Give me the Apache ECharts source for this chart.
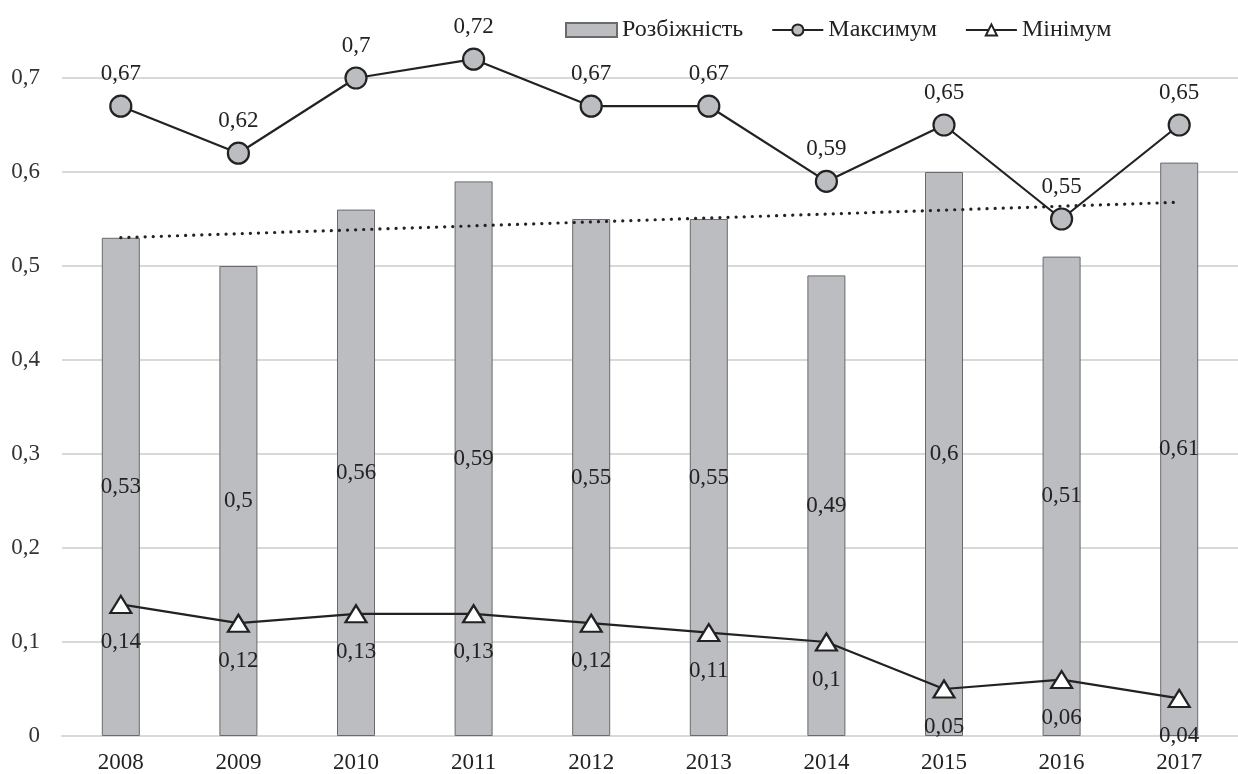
<!DOCTYPE html>
<html>
<head>
<meta charset="utf-8">
<script src="https://cdn.jsdelivr.net/npm/echarts@6/dist/echarts.min.js"></script>
<style>
html,body{margin:0;padding:0;background:#fff;}
#chart{width:1238px;height:774px;}
</style>
</head>
<body>
<div id="chart"></div>
<script>
var years = ['2008','2009','2010','2011','2012','2013','2014','2015','2016','2017'];
var divergence = [0.53,0.50,0.56,0.59,0.55,0.55,0.49,0.60,0.51,0.61];
var maximum = [0.67,0.62,0.70,0.72,0.67,0.67,0.59,0.65,0.55,0.65];
var minimum = [0.14,0.12,0.13,0.13,0.12,0.11,0.10,0.05,0.06,0.04];
var yTicks = [0,0.1,0.2,0.3,0.4,0.5,0.6,0.7];

// linear trend of the divergence bars (as the original's trendline)
function linearTrend(arr){
  var n = arr.length, sx=0, sy=0, sxy=0, sxx=0;
  for (var i=0;i<n;i++){ sx+=i; sy+=arr[i]; sxy+=i*arr[i]; sxx+=i*i; }
  var b = (n*sxy - sx*sy)/(n*sxx - sx*sx);
  var a = (sy - b*sx)/n;
  return arr.map(function(_,i){ return a + b*i; });
}
var trend = linearTrend(divergence);

function fmt(v){ return String(+v.toFixed(2)).replace('.', ','); }

var FONT = 'Liberation Serif';
var FS = 23;
var chart = echarts.init(document.getElementById('chart'), null, {renderer:'canvas'});
chart.setOption({
  animation:false,
  backgroundColor:'#fff',
  textStyle:{fontFamily:FONT},
  legend:{
    data:[{name:'Розбіжність', icon:'rect'},{name:'Максимум'},{name:'Мінімум'}],
    left:560, top:13,
    itemWidth:51, itemHeight:14, itemGap:28,
    textStyle:{fontFamily:FONT, fontSize:24, color:'#222', padding:[0,0,0,0]}
  },
  grid:{left:62, top:78, width:1187, bottom:37, containLabel:false},
  xAxis:{
    type:'category', data:years,
    axisLine:{show:true, lineStyle:{color:'#d9d9d9', width:2}},
    axisTick:{show:false},
    axisLabel:{fontFamily:FONT, fontSize:FS, color:'#222', margin:15}
  },
  yAxis:{
    type:'value', min:0, max:0.7, interval:0.1,
    axisLine:{show:false}, axisTick:{show:false},
    splitLine:{lineStyle:{color:'#d9d9d9', width:2}},
    axisLabel:{fontFamily:FONT, fontSize:FS, color:'#333', margin:22,
      formatter:function(v){ return fmt(v); }}
  },
  series:[
    {
      name:'Розбіжність', type:'bar', data:divergence, barWidth:38,
      itemStyle:{color:'#bcbdc1', borderColor:'#6a6a6a', borderWidth:1},
      label:{show:true, position:'inside', fontFamily:FONT, fontSize:FS, color:'#222',
        formatter:function(p){ return fmt(p.value); }},
      z:2
    },
    {
      name:'trend', type:'line', data:trend, symbol:'none', silent:true,
      lineStyle:{color:'#222', width:3.2, type:[0.1,8], cap:'round'},
      z:3
    },
    {
      name:'Максимум', type:'line', data:maximum, clip:false,
      symbol:'circle', symbolSize:21,
      itemStyle:{color:'#bcbdc1', borderColor:'#222', borderWidth:2.2},
      lineStyle:{color:'#222', width:2.2},
      label:{show:true, position:'top', distance:9, fontFamily:FONT, fontSize:FS, color:'#222',
        formatter:function(p){ return fmt(p.value); }},
      z:5
    },
    {
      name:'Мінімум', type:'line', data:minimum, clip:false,
      symbol:'triangle', symbolSize:[21,17],
      itemStyle:{color:'#fff', borderColor:'#222', borderWidth:2.2},
      lineStyle:{color:'#222', width:2.2},
      label:{show:true, position:'bottom', distance:17, fontFamily:FONT, fontSize:FS, color:'#222',
        formatter:function(p){ return fmt(p.value); }},
      z:5
    }
  ]
});
</script>
</body>
</html>
